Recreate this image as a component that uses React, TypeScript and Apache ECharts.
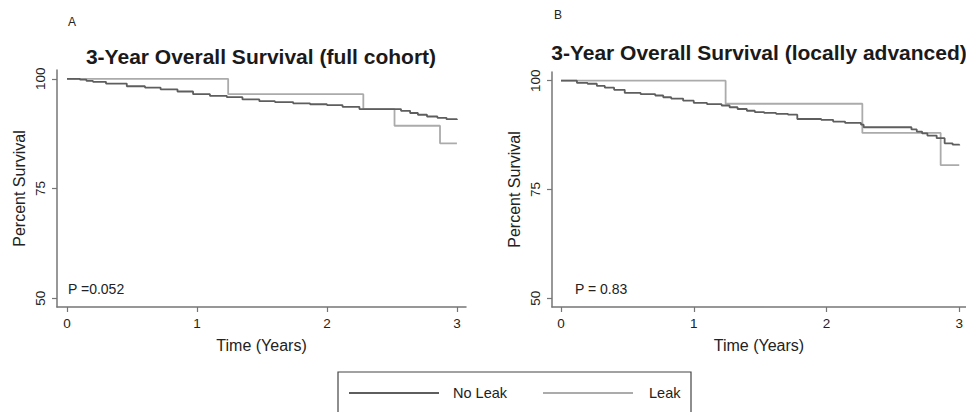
import React, { useEffect, useRef } from "react";
import * as echarts from "echarts";

const panelTitles = ["3-Year Overall Survival (full cohort)", "3-Year Overall Survival (locally advanced)"];
const panelLetters = ["A", "B"];
const pValues = ["P =0.052", "P = 0.83"];
const seriesNames = ["No Leak", "Leak"];
const yTicks = [50, 75, 100];
const xTicks = [0, 1, 2, 3];
const xName = "Time (Years)";
const yName = "Percent Survival";

// Panel A: full cohort  [time (years), percent survival]
const fullNoLeak: [number, number][] = [
  [0, 100], [0.1, 99.8], [0.15, 99.5], [0.2, 99.3], [0.3, 98.9], [0.46, 98.3], [0.6, 98.0],
  [0.72, 97.6], [0.85, 97.1], [0.97, 96.5], [1.1, 96.1], [1.23, 95.8], [1.35, 95.3],
  [1.48, 94.9], [1.6, 94.7], [1.74, 94.4], [1.87, 94.2], [2.0, 94.0], [2.12, 93.6],
  [2.25, 93.1], [2.57, 92.7], [2.64, 92.2], [2.7, 91.8], [2.77, 91.4], [2.85, 91.1],
  [2.92, 90.8], [3.0, 90.6],
];
const fullLeak: [number, number][] = [
  [0, 100], [1.24, 96.5], [2.28, 93.1], [2.52, 89.3], [2.87, 85.3], [3.0, 85.3],
];

// Panel B: locally advanced
const advNoLeak: [number, number][] = [
  [0, 100], [0.12, 99.5], [0.2, 99.3], [0.27, 98.8], [0.33, 98.4], [0.4, 97.9], [0.48, 97.2],
  [0.6, 96.9], [0.71, 96.6], [0.77, 96.2], [0.83, 95.9], [0.92, 95.4], [1.0, 94.9],
  [1.1, 94.6], [1.21, 94.3], [1.27, 93.9], [1.33, 93.5], [1.4, 93.1], [1.46, 92.8],
  [1.53, 92.6], [1.62, 92.4], [1.71, 92.2], [1.78, 91.2], [1.96, 91.0], [2.05, 90.6],
  [2.14, 90.3], [2.26, 89.9], [2.28, 89.3], [2.64, 88.8], [2.68, 88.3], [2.72, 87.9],
  [2.76, 87.4], [2.83, 86.8], [2.89, 85.6], [2.95, 85.3], [3.0, 85.1],
];
const advLeak: [number, number][] = [
  [0, 100], [1.24, 94.7], [2.27, 88.0], [2.86, 80.6], [3.0, 80.6],
];

const FONT = "'Liberation Sans', Arial, Helvetica, sans-serif";
const DARK = "#5e5e5e";
const LIGHT = "#ababab";
const AXIS = "#767676";

export default function App() {
  const ref = useRef<HTMLDivElement>(null);
  useEffect(() => {
    if (!ref.current) return;
    const chart = echarts.init(ref.current, null, { renderer: "svg" });

    const grids = [
      { left: 57, top: 70, width: 409, height: 237 },
      { left: 552, top: 72, width: 414, height: 235 },
    ];
    const xRanges = [
      [-0.077, 3.07],
      [-0.068, 3.05],
    ];

    const xAxes = grids.map((_, i) => ({
      type: "value",
      gridIndex: i,
      min: xRanges[i][0],
      max: xRanges[i][1],
      name: xName,
      nameLocation: "middle",
      nameGap: 30,
      nameTextStyle: { fontFamily: FONT, fontSize: 16, color: "#222" },
      axisLine: { show: true, onZero: false, lineStyle: { color: AXIS, width: 1.5 } },
      axisTick: { show: true, length: 5, customValues: xTicks, lineStyle: { color: AXIS, width: 1.2 } },
      axisLabel: { customValues: xTicks, margin: 9, fontFamily: FONT, fontSize: 13.5, color: "#222" },
      splitLine: { show: false },
    }));

    const yAxes = grids.map((_, i) => ({
      type: "value",
      gridIndex: i,
      min: 48,
      max: 102,
      name: yName,
      nameLocation: "middle",
      nameGap: 30,
      nameTextStyle: { fontFamily: FONT, fontSize: 16, color: "#222" },
      axisLine: { show: true, onZero: false, lineStyle: { color: AXIS, width: 1.5 } },
      axisTick: { show: true, length: 5, customValues: yTicks, lineStyle: { color: AXIS, width: 1.2 } },
      axisLabel: { customValues: yTicks, rotate: 90, margin: 10, fontFamily: FONT, fontSize: 13.5, color: "#222" },
      splitLine: { show: false },
    }));

    const mk = (name: string, data: [number, number][], idx: number, color: string, z: number) => ({
      type: "line",
      name,
      xAxisIndex: idx,
      yAxisIndex: idx,
      data,
      step: "end",
      showSymbol: false,
      symbol: "none",
      z,
      lineStyle: { color, width: 1.8 },
      itemStyle: { color },
    });

    const legendLeft = 338;
    const legendTop = 372;
    const legendY = 393;

    chart.setOption({
      animation: false,
      backgroundColor: "#ffffff",
      grid: grids.map((g) => ({ ...g, containLabel: false })),
      xAxis: xAxes,
      yAxis: yAxes,
      series: [
        mk(seriesNames[1], fullLeak, 0, LIGHT, 2),
        mk(seriesNames[0], fullNoLeak, 0, DARK, 3),
        mk(seriesNames[1], advLeak, 1, LIGHT, 2),
        mk(seriesNames[0], advNoLeak, 1, DARK, 3),
      ],
      graphic: [
        { type: "text", x: 72, y: 22, style: { text: panelLetters[0], textAlign: "center", textVerticalAlign: "middle", font: `12px ${FONT}`, fill: "#222" } },
        { type: "text", x: 558, y: 15, style: { text: panelLetters[1], textAlign: "center", textVerticalAlign: "middle", font: `12px ${FONT}`, fill: "#222" } },
        { type: "text", x: 261, y: 56, style: { text: panelTitles[0], textAlign: "center", textVerticalAlign: "middle", font: `bold 21px ${FONT}`, fill: "#1a1a1a" } },
        { type: "text", x: 759, y: 52, style: { text: panelTitles[1], textAlign: "center", textVerticalAlign: "middle", font: `bold 21px ${FONT}`, fill: "#1a1a1a" } },
        { type: "text", x: 68, y: 289, style: { text: pValues[0], textAlign: "left", textVerticalAlign: "middle", font: `14px ${FONT}`, fill: "#222" } },
        { type: "text", x: 575, y: 289, style: { text: pValues[1], textAlign: "left", textVerticalAlign: "middle", font: `14px ${FONT}`, fill: "#222" } },
        { type: "rect", shape: { x: legendLeft, y: legendTop, width: 353, height: 60 }, style: { fill: "#fff", stroke: "#444", lineWidth: 1.2 } },
        { type: "line", shape: { x1: 349, y1: legendY, x2: 439, y2: legendY }, style: { stroke: DARK, lineWidth: 1.8 } },
        { type: "text", x: 453, y: legendY, style: { text: seriesNames[0], textAlign: "left", textVerticalAlign: "middle", font: `14.5px ${FONT}`, fill: "#222" } },
        { type: "line", shape: { x1: 543, y1: legendY, x2: 633, y2: legendY }, style: { stroke: LIGHT, lineWidth: 1.8 } },
        { type: "text", x: 649, y: legendY, style: { text: seriesNames[1], textAlign: "left", textVerticalAlign: "middle", font: `14.5px ${FONT}`, fill: "#222" } },
      ],
    });
    return () => chart.dispose();
  }, []);

  return (
    <div
      ref={ref}
      style={{ position: "fixed", left: 0, top: 0, width: 966, height: 412, background: "#fff" }}
    />
  );
}
